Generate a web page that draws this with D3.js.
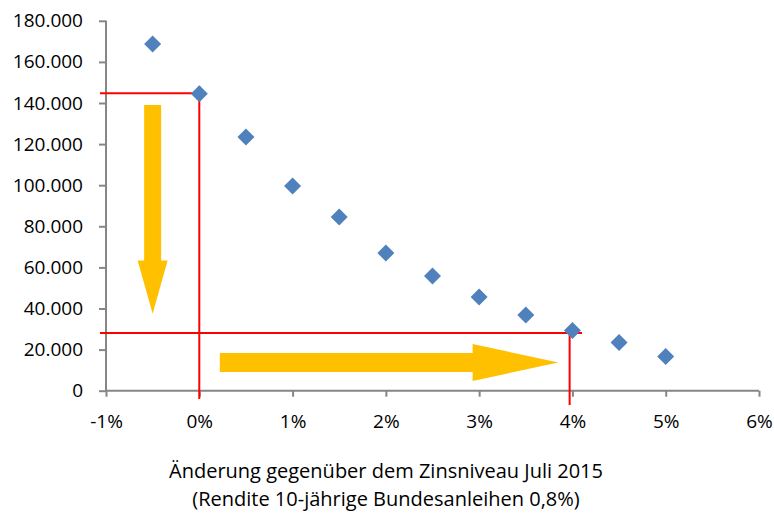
<!DOCTYPE html>
<html>
<head>
<meta charset="utf-8">
<script src="https://cdn.jsdelivr.net/npm/d3@7"></script>
<style>
body{margin:0;background:#fff;}
text{font-family:"Open Sans",sans-serif;fill:#000;}
</style>
</head>
<body>
<script>
// Zinsänderung in Prozentpunkten
var zins = [-0.5, 0, 0.5, 1, 1.5, 2, 2.5, 3, 3.5, 4, 4.5, 5];
// Werte
var werte = [168700, 144500, 123400, 99600, 84500, 67000, 55800, 45600, 36800, 29300, 23400, 16700];
var xTicks = [-1, 0, 1, 2, 3, 4, 5, 6];
var yTicks = [0, 20000, 40000, 60000, 80000, 100000, 120000, 140000, 160000, 180000];
var titel = ["Änderung gegenüber dem Zinsniveau Juli 2015", "(Rendite 10-jährige Bundesanleihen 0,8%)"];
// rote Hilfslinien: Ausgangspunkt und Endpunkt
var hilfsX = [0, 3.97];
var hilfsY = [144800, 28100];

var width = 774, height = 514;
var svg = d3.select("body").append("svg").attr("width", width).attr("height", height);

var x = d3.scaleLinear().domain([-1, 6]).range([106, 759]);
var y = d3.scaleLinear().domain([0, 180000]).range([390.7, 20.8]);
var fmt = function(d){ return d3.format(",")(d).replace(/,/g, "."); };

var grau = "#868686";

// y-Achse
var ya = svg.append("g").attr("transform", "translate(" + x(-1) + ",0)")
    .call(d3.axisLeft(y).tickValues(yTicks).tickFormat(fmt).tickSize(7).tickPadding(16));
// x-Achse
var xa = svg.append("g").attr("transform", "translate(0," + y(0) + ")")
    .call(d3.axisBottom(x).tickValues(xTicks).tickFormat(function(d){ return d + "%"; }).tickSize(6).tickPadding(18));
[ya, xa].forEach(function(a){
    a.select(".domain").attr("stroke", grau).attr("stroke-width", 2);
    a.selectAll(".tick line").attr("stroke", grau).attr("stroke-width", 2);
    a.selectAll(".tick text").style("font-size", "19px").attr("fill", "#000");
});
ya.select(".domain").attr("d", "M0," + y(180000) + "V" + y(0));
xa.select(".domain").attr("d", "M" + x(-1) + ",0H" + x(6));

// Pfeile
var orange = "#FFC000";
var ax = x(-0.5);
svg.append("path").attr("fill", orange)
    .attr("d", "M" + (ax - 8.5) + "," + y(139000) + "H" + (ax + 8.5) + "V" + y(63400)
        + "H" + (ax + 15) + "L" + ax + "," + y(37500) + "L" + (ax - 15) + "," + y(63400)
        + "H" + (ax - 8.5) + "Z");
var ay = 362.5;
svg.append("path").attr("fill", orange)
    .attr("d", "M" + x(0.22) + "," + (ay - 9.5) + "H" + x(2.93) + "V" + (ay - 18.5)
        + "L" + x(3.85) + "," + ay + "L" + x(2.93) + "," + (ay + 18.5) + "V" + (ay + 9.5)
        + "H" + x(0.22) + "Z");

// rote Linien
var rot = "#FF0000";
svg.append("line").attr("x1", 100).attr("x2", x(hilfsX[0]) + 1).attr("y1", y(hilfsY[0])).attr("y2", y(hilfsY[0]))
    .attr("stroke", rot).attr("stroke-width", 2);
svg.append("line").attr("x1", x(hilfsX[0])).attr("x2", x(hilfsX[0])).attr("y1", 86).attr("y2", 399)
    .attr("stroke", rot).attr("stroke-width", 2);
svg.append("line").attr("x1", 100).attr("x2", 582).attr("y1", y(hilfsY[1])).attr("y2", y(hilfsY[1]))
    .attr("stroke", rot).attr("stroke-width", 2);
svg.append("line").attr("x1", x(hilfsX[1])).attr("x2", x(hilfsX[1])).attr("y1", y(hilfsY[1])).attr("y2", 405)
    .attr("stroke", rot).attr("stroke-width", 2);

// Punkte
svg.selectAll("path.pkt").data(zins).enter().append("path").attr("class", "pkt")
    .attr("transform", function(d, i){ return "translate(" + x(d) + "," + y(werte[i]) + ")"; })
    .attr("d", "M0,-8.5L8.5,0L0,8.5L-8.5,0Z")
    .attr("fill", "#4F81BD");

// Achsentitel
svg.selectAll("text.titel").data(titel).enter().append("text").attr("class", "titel")
    .attr("x", 386).attr("y", function(d, i){ return 477.5 + i * 28; })
    .attr("text-anchor", "middle").style("font-size", "20px").text(function(d){ return d; });
</script>
</body>
</html>
